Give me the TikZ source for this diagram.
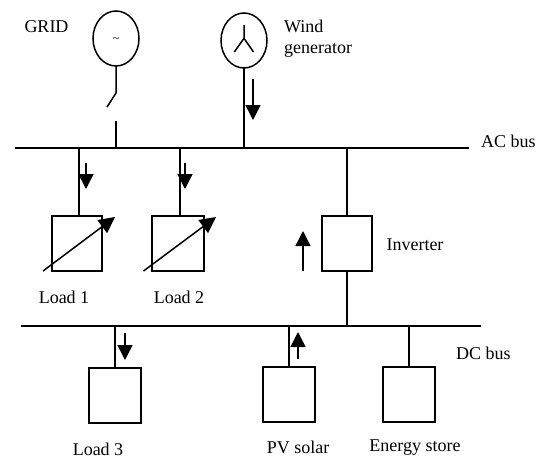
\documentclass[tikz,border=0pt]{standalone}
\usepackage{fontspec}
\setmainfont{Liberation Serif}
\usetikzlibrary{arrows.meta,shapes.geometric}
\tikzset{
  wire/.style={line width=1.5pt,line cap=butt},
  bus/.style={line width=1.6pt},
  unit/.style={draw,line width=1.5pt,minimum width=50pt,minimum height=55pt,inner sep=0pt,outer sep=0pt},
  source/.style={draw,ellipse,line width=1.5pt,minimum width=46pt,minimum height=55pt,inner sep=0pt,outer sep=0pt},
  flow/.style={line width=1.5pt,-{Triangle[length=15pt,width=15pt]}},
  dial/.style={line width=1.5pt,-{Triangle[length=16pt,width=16pt]}},
  lbl/.style={inner sep=0pt,font=\fontsize{18pt}{21pt}\selectfont},
}
\begin{document}
\begin{tikzpicture}[x=1pt,y=-1pt]
\useasboundingbox (0,0) rectangle (542,459);
% buses
\coordinate (acL) at (15,148); \coordinate (acR) at (469,148);
\coordinate (dcL) at (21,326); \coordinate (dcR) at (481,326);
\draw[bus] (acL) -- (acR);
\draw[bus] (dcL) -- (dcR);
% sources
\node[source] (grid) at (116,38.5) {};
\node[source] (wind) at (244,40.5) {};
\node[inner sep=0pt,font=\fontsize{12pt}{14pt}\selectfont] (tilde) at (116,40) {\char`\~};
% wind symbol
\coordinate (wc) at (244,38.3); \coordinate (wt) at (244,25);
\coordinate (wl) at (234.3,52); \coordinate (wr) at (253.5,52);
\draw[wire] (wt) -- (wc) (wl) -- (wc) -- (wr);
% grid with switch
\coordinate (sw1) at (grid.south |- 0,93); \coordinate (sw2) at (107,107);
\coordinate (sw3) at (grid.south |- 0,121); \coordinate (gridbus) at (grid.south |- acL);
\draw[wire] (grid.south) -- (sw1) -- (sw2);
\draw[wire] (sw3) -- (gridbus);
% wind connector
\coordinate (windbus) at (wind.south |- acL);
\draw[wire] (wind.south) -- (windbus);
\coordinate (fw1) at (253,79); \coordinate (fw2) at (253,120);
\draw[flow] (fw1) -- (fw2);
% loads
\node[unit] (load1) at (77,243.5) {};
\node[unit,minimum width=52pt] (load2) at (178,243.5) {};
\coordinate (l1bus) at (79,148); \coordinate (l1top) at (79,216);
\coordinate (l2bus) at (180,148); \coordinate (l2top) at (180,216);
\draw[wire] (l1bus) -- (l1top);
\draw[wire] (l2bus) -- (l2top);
\coordinate (f1a) at (86,163); \coordinate (f1b) at (86,189);
\coordinate (f2a) at (185,163); \coordinate (f2b) at (185,189);
\draw[flow] (f1a) -- (f1b);
\draw[flow] (f2a) -- (f2b);
\coordinate (d1a) at (43,271); \coordinate (d1b) at (115,217);
\coordinate (d2a) at (143.5,271); \coordinate (d2b) at (216,217);
\draw[dial] (d1a) -- (d1b);
\draw[dial] (d2a) -- (d2b);
% inverter
\node[unit] (inv) at (347,243.5) {};
\draw[wire] (inv.north) -- (inv.north |- acL);
\draw[wire] (inv.south) -- (inv.south |- dcL);
\coordinate (fia) at (303,271); \coordinate (fib) at (303,231);
\draw[flow] (fia) -- (fib);
% DC units
\node[unit,minimum width=52pt] (load3) at (115,395.5) {};
\node[unit,minimum width=52pt] (pv) at (289,394.5) {};
\node[unit,minimum width=52pt] (store) at (409,394.5) {};
\draw[wire] (load3.north) -- (load3.north |- dcL);
\draw[wire] (pv.north) -- (pv.north |- dcL);
\draw[wire] (store.north) -- (store.north |- dcL);
\coordinate (f3a) at (125,333); \coordinate (f3b) at (125,360);
\coordinate (fpa) at (298,359); \coordinate (fpb) at (298,332);
\draw[flow] (f3a) -- (f3b);
\draw[flow] (fpa) -- (fpb);
% labels
\node[lbl] (tgrid) at (46.5,26.5) {GRID};
\node[lbl,anchor=west] (twind1) at (284,26) {Wind};
\node[lbl,anchor=west] (twind2) at (284,50.5) {generator};
\node[lbl] (tac) at (508.5,141) {AC bus};
\node[lbl] (tdc) at (483.5,353) {DC bus};
\node[lbl] (tinv) at (415,245) {Inverter};
\node[lbl] (tl1) at (64,297) {Load 1};
\node[lbl] (tl2) at (179,297) {Load 2};
\node[lbl] (tl3) at (98,449.5) {Load 3};
\node[lbl] (tpv) at (298,447) {PV solar};
\node[lbl] (tes) at (415,448) {Energy store};
\end{tikzpicture}
\end{document}
